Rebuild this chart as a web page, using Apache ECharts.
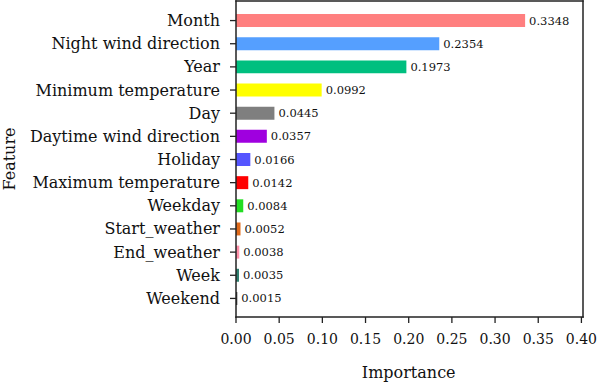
<!DOCTYPE html>
<html>
<head>
<meta charset="utf-8">
<script src="https://cdn.jsdelivr.net/npm/echarts@6/dist/echarts.min.js"></script>
<style>html,body{margin:0;padding:0;background:#fff;}#c{width:600px;height:385px;}</style>
</head>
<body>
<div id="c"></div>
<script>
const features = ["Month","Night wind direction","Year","Minimum temperature","Day","Daytime wind direction","Holiday","Maximum temperature","Weekday","Start_weather","End_weather","Week","Weekend"];
const importance = [0.3348,0.2354,0.1973,0.0992,0.0445,0.0357,0.0166,0.0142,0.0084,0.0052,0.0038,0.0035,0.0015];
const barColors = ["#FF7F7F","#559FFF","#00BF7F","#FFFF00","#7F7F7F","#9F00DF","#5555FF","#FF0000","#22DD22","#E06A1A","#FF8FA8","#2F7F6F","#333333"];
const xTicks = [0,0.05,0.10,0.15,0.20,0.25,0.30,0.35,0.40];

const FONT = "DejaVu Serif";
const chart = echarts.init(document.getElementById('c'), null, {renderer:'svg'});
const gl = 236, gr = 17, gt = 9, gb = 73;
const fx = gl, fy = 1, fw = 600 - gl - gr, fh = 316, lw = 1.5, tw = 1.3, tl = 6;
chart.setOption({
  animation:false,
  backgroundColor:'#fff',
  textStyle:{fontFamily:FONT},
  grid:{left:gl,right:gr,top:gt,bottom:gb,containLabel:false},
  xAxis:{
    type:'value', min:xTicks[0], max:xTicks[xTicks.length-1], interval:0.05,
    offset:5,
    axisLine:{show:false},
    axisTick:{show:false},
    splitLine:{show:false},
    axisLabel:{fontFamily:FONT,fontSize:14,color:'#111',margin:17,formatter:v=>v.toFixed(2)},
    name:'Importance', nameLocation:'middle', nameGap:49,
    nameTextStyle:{fontFamily:FONT,fontSize:16,color:'#111'}
  },
  yAxis:{
    type:'category', data:features, inverse:true,
    axisLine:{show:false},
    axisTick:{show:false},
    axisLabel:{fontFamily:FONT,fontSize:16,color:'#111',margin:16}
  },
  series:[{
    type:'bar',
    data:importance.map((v,i)=>({value:v,itemStyle:{color:barColors[i]}})),
    barCategoryGap:'44%',
    label:{show:true,position:'right',distance:4,fontFamily:FONT,fontSize:11.5,color:'#111',formatter:p=>p.value.toFixed(4)}
  }]
});

const g = [
  {type:'rect', silent:true, z:100, shape:{x:fx-lw/2,y:fy-lw/2,width:fw+lw,height:lw}, style:{fill:'#222'}},
  {type:'rect', silent:true, z:100, shape:{x:fx-lw/2,y:fy+fh-lw/2,width:fw+lw,height:lw}, style:{fill:'#222'}},
  {type:'rect', silent:true, z:100, shape:{x:fx-lw/2,y:fy-lw/2,width:lw,height:fh+lw}, style:{fill:'#222'}},
  {type:'rect', silent:true, z:100, shape:{x:fx+fw-lw/2,y:fy-lw/2,width:lw,height:fh+lw}, style:{fill:'#222'}},
  {type:'text', silent:true, x:9, y:159, rotation:Math.PI/2,
   style:{text:'Feature',font:'16px "DejaVu Serif"',fill:'#111',align:'center',verticalAlign:'middle'}}
];
xTicks.forEach(v => {
  const px = chart.convertToPixel({xAxisIndex:0}, v);
  g.push({type:'rect', silent:true, z:100, shape:{x:px-tw/2,y:fy+fh,width:tw,height:tl}, style:{fill:'#222'}});
});
features.forEach(f => {
  const py = chart.convertToPixel({yAxisIndex:0}, f);
  g.push({type:'rect', silent:true, z:100, shape:{x:fx-tl,y:py-tw/2,width:tl,height:tw}, style:{fill:'#222'}});
});
chart.setOption({graphic:g});
</script>
</body>
</html>
